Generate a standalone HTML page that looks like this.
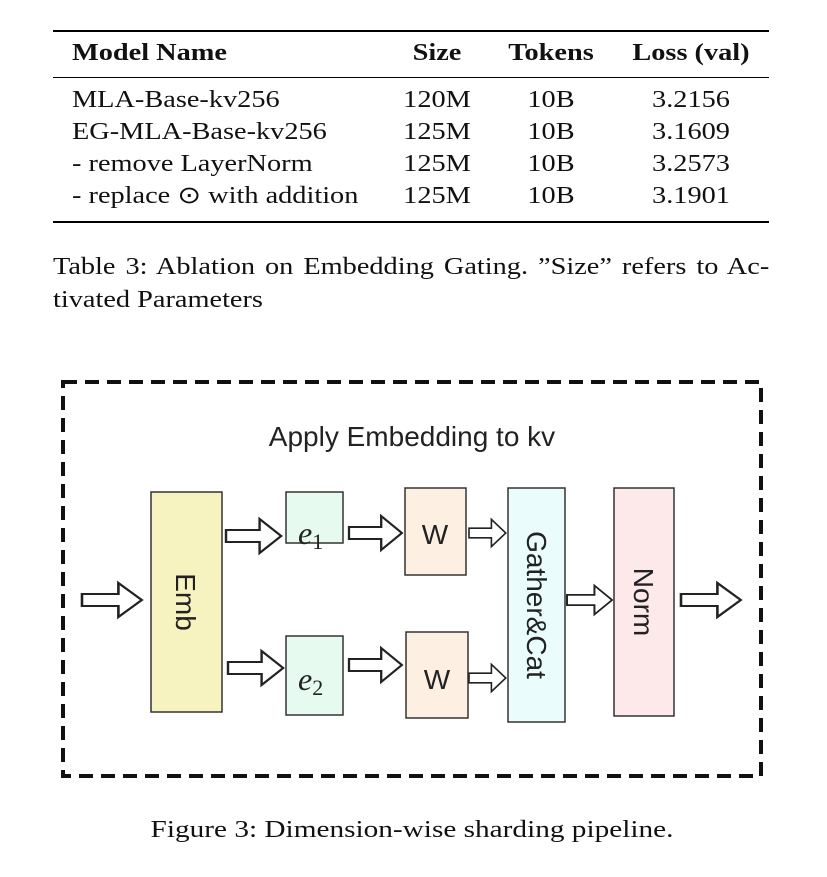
<!DOCTYPE html>
<html><head><meta charset="utf-8"><style>
body{margin:0;width:827px;height:877px;background:#fff;position:relative;overflow:hidden;font-family:"Liberation Serif",serif;color:#111}
.t{position:absolute;font-size:24px;white-space:nowrap;line-height:1;transform:scaleX(1.18);transform-origin:left center}
.b{font-weight:bold}
.c{transform:translateX(-50%) scaleX(1.18);transform-origin:center center}
.r{position:absolute;background:#000;left:53px;width:716px}
.j{text-align:justify;text-align-last:justify;width:607px}
</style></head><body>
<div class="r" style="top:30px;height:2px"></div>
<div class="r" style="top:77px;height:1px"></div>
<div class="r" style="top:221px;height:2px"></div>
<div class="t b" style="left:72px;top:41px">Model Name</div>
<div class="t b c" style="left:437px;top:41px">Size</div>
<div class="t b c" style="left:551px;top:41px">Tokens</div>
<div class="t b c" style="left:691px;top:41px">Loss (val)</div>

<div class="t" style="left:72px;top:88px">MLA-Base-kv256</div>
<div class="t c" style="left:437px;top:88px">120M</div>
<div class="t c" style="left:551px;top:88px">10B</div>
<div class="t c" style="left:691px;top:88px">3.2156</div>
<div class="t" style="left:72px;top:120px">EG-MLA-Base-kv256</div>
<div class="t c" style="left:437px;top:120px">125M</div>
<div class="t c" style="left:551px;top:120px">10B</div>
<div class="t c" style="left:691px;top:120px">3.1609</div>
<div class="t" style="left:72px;top:152px">- remove LayerNorm</div>
<div class="t c" style="left:437px;top:152px">125M</div>
<div class="t c" style="left:551px;top:152px">10B</div>
<div class="t c" style="left:691px;top:152px">3.2573</div>
<div class="t" style="left:72px;top:184px">- replace ⊙ with addition</div>
<div class="t c" style="left:437px;top:184px">125M</div>
<div class="t c" style="left:551px;top:184px">10B</div>
<div class="t c" style="left:691px;top:184px">3.1901</div>

<div class="t j" style="left:53px;top:255px">Table 3: Ablation on Embedding Gating. ”Size” refers to Ac-</div>
<div class="t" style="left:53px;top:288px">tivated Parameters</div>

<svg style="position:absolute;left:0;top:0" width="827" height="877">
<defs><g id="ar"><path d="M0,-6 H28 V-17 L46,0 L28,17 V6 H0 Z" fill="#fff" stroke="#222" stroke-width="2"/></g></defs>
<rect x="63" y="382" width="698" height="394" fill="none" stroke="#111" stroke-width="4" stroke-dasharray="14,8"/>
<text x="412" y="446" font-family="Liberation Sans,sans-serif" font-size="28" text-anchor="middle" fill="#222">Apply Embedding to kv</text>
<g stroke="#333" stroke-width="1.5">
<rect x="151" y="492" width="71" height="220" fill="#f7f3c0"/>
<rect x="286" y="492" width="57" height="51" fill="#e6faf0"/>
<rect x="286" y="636" width="57" height="79" fill="#e6faf0"/>
<rect x="405" y="488" width="61" height="87" fill="#fdf0e3"/>
<rect x="406" y="632" width="62" height="86" fill="#fdf0e3"/>
<rect x="508" y="488" width="57" height="234" fill="#eafcfc"/>
<rect x="614" y="488" width="60" height="228" fill="#fde8ea"/>
</g>
<g font-family="Liberation Sans,sans-serif" font-size="28" fill="#222">
<text transform="translate(176,602) rotate(90)" text-anchor="middle">Emb</text>
<text transform="translate(527,605) rotate(90)" text-anchor="middle">Gather&amp;Cat</text>
<text transform="translate(634,602) rotate(90)" text-anchor="middle">Norm</text>
<text x="435" y="544" text-anchor="middle">W</text>
<text x="437" y="689" text-anchor="middle">W</text>
</g>
<g font-family="Liberation Serif,serif" font-size="32" font-style="italic" fill="#222">
<text x="298" y="544">e<tspan font-style="normal" font-size="22" dy="5">1</tspan></text>
<text x="298" y="690">e<tspan font-style="normal" font-size="22" dy="5">2</tspan></text>
</g>
<use href="#ar" transform="translate(82,600) scale(1.3,1)"/>
<use href="#ar" transform="translate(226,536) scale(1.2,1)"/>
<use href="#ar" transform="translate(349,533) scale(1.15,1)"/>
<use href="#ar" transform="translate(469,533) scale(0.8,0.8)"/>
<use href="#ar" transform="translate(228,668) scale(1.2,1)"/>
<use href="#ar" transform="translate(349,665) scale(1.15,1)"/>
<use href="#ar" transform="translate(469,678) scale(0.8,0.8)"/>
<use href="#ar" transform="translate(567,600) scale(0.98,0.85)"/>
<use href="#ar" transform="translate(681,600) scale(1.3,1)"/>
</svg>
<div class="t c" style="left:412px;top:818px;transform:translateX(-50%) scaleX(1.22)">Figure 3: Dimension-wise sharding pipeline.</div>
</body></html>
